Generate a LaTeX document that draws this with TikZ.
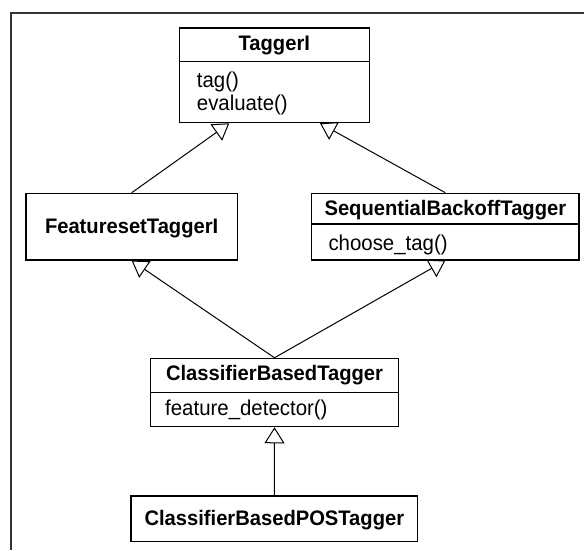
\documentclass[tikz,border=0pt]{standalone}
\usepackage{fontspec}
\setmainfont{Liberation Sans}
\newfontfamily\umlregular{Liberation Sans}[FakeStretch=0.95]
\newfontfamily\umlbold{Liberation Sans Bold}[FakeStretch=0.96]
\usetikzlibrary{arrows.meta,calc}
\begin{document}
\begin{tikzpicture}[x=1pt,y=-1pt,
  umlbox/.style={draw=black, line width=1.1pt, fill=white, rectangle, inner sep=0pt},
  divider/.style={draw=black, line width=1.3pt},
  titletext/.style={font=\umlbold\fontsize{21}{25}\selectfont, anchor=base, inner sep=0pt},
  methodtext/.style={font=\umlregular\fontsize{21.5}{25}\selectfont, anchor=base west, inner sep=0pt},
  inherit/.style={draw=black, line width=1pt, -{Triangle[open, length=16pt, width=20pt]}},
  frameline/.style={draw=black!80, line width=2pt}]

\useasboundingbox (0,0) rectangle (584,550);

% outer frame (only top and left edges visible)
\coordinate (frameTR) at (584,12.7);
\coordinate (frameTL) at (10.5,12.7);
\coordinate (frameBL) at (10.5,550);
\draw[frameline] (frameTR) -- (frameTL) -- (frameBL);

% boxes
\node[umlbox, minimum width=190pt, minimum height=94.7pt] (taggeri) at (274.3,75.35) {};
\node[umlbox, minimum width=211.3pt, minimum height=66.7pt] (fti) at (131.65,226.65) {};
\node[umlbox, minimum width=267.3pt, minimum height=66.7pt] (sbt) at (445.35,226.65) {};
\node[umlbox, minimum width=247.6pt, minimum height=68.4pt] (cbt) at (274.5,392.5) {};
\node[umlbox, minimum width=286.7pt, minimum height=45.7pt] (cbpos) at (274.35,518.85) {};

% dividers
\draw[divider] (taggeri.west |- 0,61.7) -- (taggeri.east |- 0,61.7);
\draw[divider] (sbt.west |- 0,224) -- (sbt.east |- 0,224);
\draw[divider] (cbt.west |- 0,392.7) -- (cbt.east |- 0,392.7);

% texts
\node[titletext] (taggeri-t) at (274.3,50) {TaggerI};
\node[methodtext] (taggeri-m1) at (196.7,87.3) {tag()};
\node[methodtext] (taggeri-m2) at (196.7,110) {evaluate()};

\node[titletext] (fti-t) at (131.65,233.3) {FeaturesetTaggerI};

\node[titletext] (sbt-t) at (445.35,215) {SequentialBackoffTagger};
\node[methodtext] (sbt-m1) at (328.3,250.7) {choose\_tag()};

\node[titletext] (cbt-t) at (274.5,380.7) {ClassifierBasedTagger};
\node[methodtext] (cbt-m1) at (165,415) {feature\_detector()};

\node[titletext] (cbpos-t) at (274.35,525) {ClassifierBasedPOSTagger};

% inheritance connectors
\draw[inherit] (fti.north) -- ($(taggeri.south)+(-45,0)$);
\draw[inherit] (sbt.north) -- ($(taggeri.south)+(45.7,0)$);
\draw[inherit] (cbt.north) -- (fti.south);
\draw[inherit] (cbt.north) -- (sbt.south);
\draw[inherit] (cbpos.north) -- (cbt.south);
\end{tikzpicture}
\end{document}
